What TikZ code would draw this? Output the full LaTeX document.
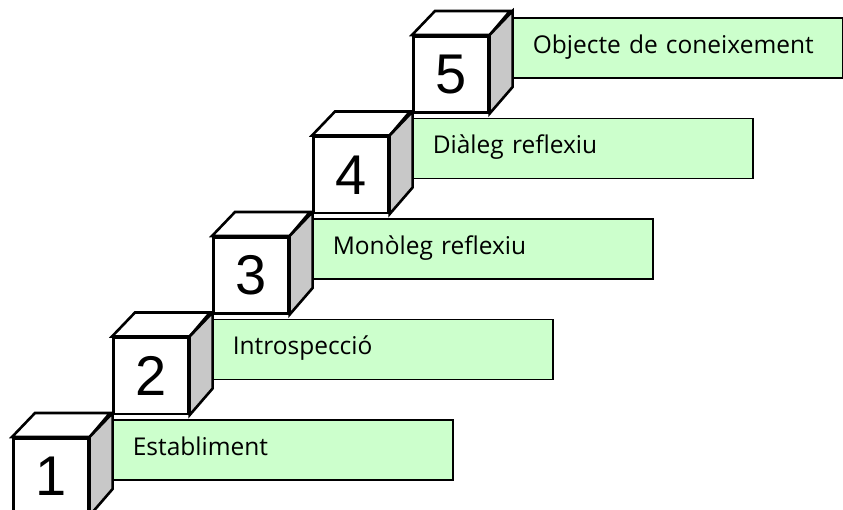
\documentclass[tikz,border=0pt]{standalone}
\usepackage{fontspec}
\setmainfont{Open Sans}
\newfontfamily\digitfont{Liberation Sans}
\definecolor{boxgreen}{HTML}{CCFFCC}
\definecolor{sidegray}{HTML}{C8C8C8}
\tikzset{
  frontface/.style={draw=black, line width=2.6pt, fill=white, minimum width=75pt, minimum height=76pt, inner sep=0pt, anchor=north west, font=\digitfont\fontsize{56}{56}\selectfont},
  topface/.style={draw=black, line width=2.6pt, fill=white, line join=miter},
  sideface/.style={draw=black, line width=2.6pt, fill=sidegray, line join=miter},
  labelbox/.style={draw=black, line width=1.6pt, fill=boxgreen, minimum height=60pt, inner xsep=20pt, inner ysep=0pt, text height=18pt, text depth=7pt, align=left, anchor=north west, font=\fontsize{24.5}{28}\selectfont}
}
\begin{document}
\begin{tikzpicture}[x=1pt,y=-1pt]
\useasboundingbox (0,0) rectangle (843,509);
\clip (0,0) rectangle (843,509);
% labels
\node[labelbox, text width=300pt] (l1) at (112,419) {Establiment};
\node[labelbox, text width=300pt] (l2) at (212,318.5) {Introspecció};
\node[labelbox, text width=300pt] (l3) at (312,218) {Monòleg reflexiu};
\node[labelbox, text width=300pt] (l4) at (412,117.5) {Diàleg reflexiu};
\node[labelbox, text width=290pt] (l5) at (512,17) {Objecte de coneixement};
% cubes
\foreach \k/\fx/\fy in {1/12/437, 2/112/336.5, 3/212/236, 4/312/135.5, 5/412/35}{
  \node[frontface] (c\k) at (\fx,\fy) {\k};
  \draw[topface] (c\k.north west) -- ++(23,-24) -- ++(75,0) -- (c\k.north east) -- cycle;
  \draw[sideface] (c\k.north east) -- ++(23,-24) -- ++(0,76) -- (c\k.south east) -- cycle;
}
\end{tikzpicture}
\end{document}
